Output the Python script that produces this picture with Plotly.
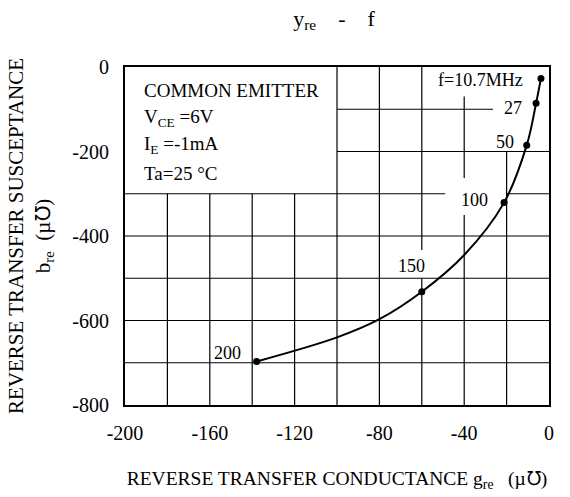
import plotly.graph_objects as go

# --- data ---
freq_labels = ["f=10.7MHz", "27", "50", "100", "150", "200"]
g_re = [-3.8, -6.1, -10.5, -21.2, -60.0, -137.9]      # µ℧ (marked points)
b_re = [-27, -86, -185, -321, -532, -697]             # µ℧

# curve (unmarked)
g_curve = [-137.9, -100, -80, -60, -40, -21.2, -10.5, -6.1, -3.8]
b_curve = [-697, -640, -597, -532, -445, -321, -185, -86, -27]

x_ticks = [-200, -160, -120, -80, -40, 0]
x_ticktext = ["-200", "-160", "-120", "-80", "-40", "0"]
y_ticks = [0, -200, -400, -600, -800]
y_ticktext = ["0", "-200", "-400", "-600", "-800"]

FONT = "Liberation Serif, Times New Roman, serif"

fig = go.Figure()

fig.add_trace(go.Scatter(
    x=g_curve, y=b_curve, mode="lines",
    line=dict(color="black", width=2, shape="spline", smoothing=1.0),
    hoverinfo="skip", showlegend=False,
))
fig.add_trace(go.Scatter(
    x=g_re, y=b_re, mode="markers",
    marker=dict(color="black", size=7),
    hoverinfo="skip", showlegend=False,
))

# label offsets (pixels) for each marked frequency
lab_pos = [(-60, 2), (-23, 5), (-22, -3), (-30, -3), (-10, -26), (-29, -8)]
for lbl, gx, by, (ax, ay) in zip(freq_labels, g_re, b_re, lab_pos):
    fig.add_annotation(x=gx, y=by, text=lbl, showarrow=False,
                       xshift=ax, yshift=-ay,
                       font=dict(family=FONT, size=18, color="black"))

# grid segments (partially interrupted as in the reference)
vseg = [(-180, -300, -800), (-160, -300, -800), (-140, -300, -800), (-120, -300, -800),
        (-100, 0, -800), (-80, 0, -800), (-60, 0, -433), (-60, -500, -800),
        (-40, -70, -263), (-40, -350, -800), (-20, -200, -800)]
hseg = [(-100, -100, -26.4), (-200, -100, 0), (-300, -200, -49), (-300, -20, 0),
        (-400, -200, 0), (-500, -200, 0), (-600, -200, 0), (-700, -200, 0)]
shapes = []
for x, y0, y1 in vseg:
    shapes.append(dict(type="line", xref="x", yref="y", x0=x, x1=x, y0=y0, y1=y1,
                       line=dict(color="black", width=1.2), layer="below"))
for y, x0, x1 in hseg:
    shapes.append(dict(type="line", xref="x", yref="y", x0=x0, x1=x1, y0=y, y1=y,
                       line=dict(color="black", width=1.2), layer="below"))

box_lines = ["COMMON EMITTER", "V<sub>CE</sub> =6V", "I<sub>E</sub> =-1mA", "Ta=25 °C"]
for i, t in enumerate(box_lines):
    fig.add_annotation(xref="paper", yref="paper", x=0.041, y=1 - (23 + 27.7 * i) / 338,
                       xanchor="left", yanchor="middle", text=t, showarrow=False,
                       font=dict(family=FONT, size=19, color="black"))

fig.update_layout(
    width=570, height=497,
    margin=dict(l=125, r=21, t=67, b=92),
    paper_bgcolor="white", plot_bgcolor="white",
    font=dict(family=FONT, size=20, color="black"),
    title=dict(text="y<sub>re</sub>    -    f", x=0.586, xanchor="center",
               y=1 - 18 / 497, yanchor="middle",
               font=dict(family=FONT, size=22)),
    shapes=shapes,
    xaxis=dict(range=[-200, 0], tickvals=x_ticks, ticktext=x_ticktext,
               showgrid=False, zeroline=False, automargin=False,
               showline=True, linecolor="black", linewidth=2, mirror=True,
               ticks="", ticklabelstandoff=9, tickfont=dict(size=20),
               title=dict(text="REVERSE TRANSFER CONDUCTANCE g<sub>re</sub>   (µ℧)",
                          standoff=28, font=dict(size=19.5))),
    yaxis=dict(range=[-800, 0], tickvals=y_ticks, ticktext=y_ticktext,
               showgrid=False, zeroline=False, automargin=False,
               showline=True, linecolor="black", linewidth=2, mirror=True,
               ticks="", ticklabelstandoff=10, tickfont=dict(size=20),
               title=dict(text="REVERSE TRANSFER SUSCEPTANCE<br>b<sub>re</sub>  (µ℧)",
                          standoff=16, font=dict(size=21))),
)

fig.write_html("out.html", config={"displayModeBar": False},
               post_script="document.body.style.margin='0';")
